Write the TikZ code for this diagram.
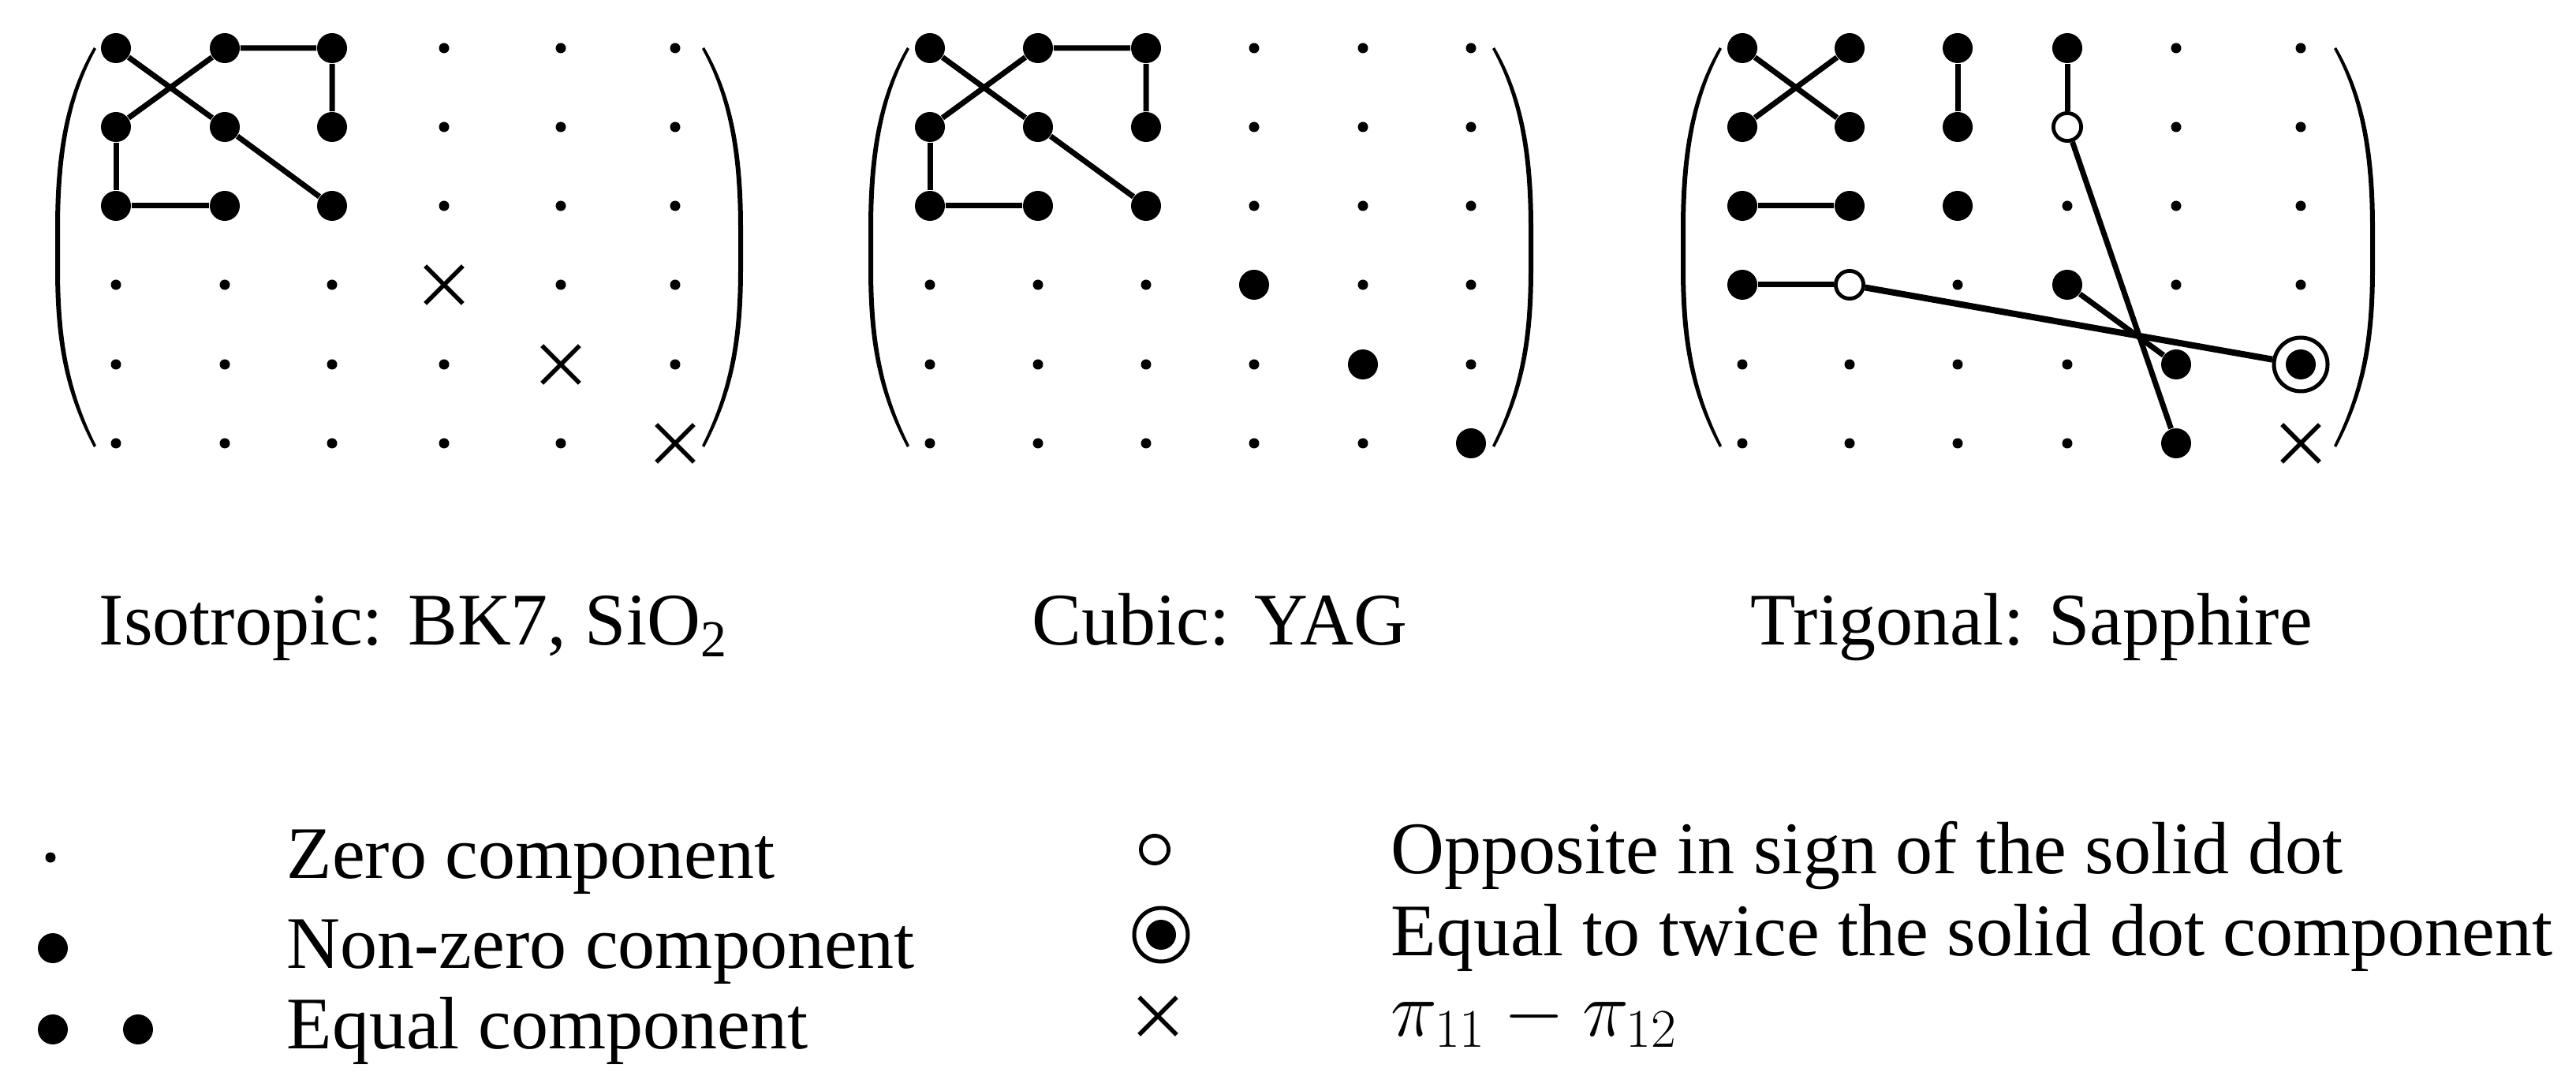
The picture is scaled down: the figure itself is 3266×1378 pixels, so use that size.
\documentclass[tikz,border=0pt]{standalone}
\usepackage{fontspec}
\setmainfont{Liberation Serif}
\usetikzlibrary{shapes.misc}
\begin{document}
\begin{tikzpicture}[x=0.25pt,y=-0.25pt,
  zdot/.style={circle,fill=black,inner sep=0pt,minimum size=3.25pt},
  bdot/.style={circle,fill=black,inner sep=0pt,minimum size=9.5pt},
  odot/.style={circle,draw=black,fill=white,line width=1.2pt,inner sep=0pt,minimum size=8.8pt},
  ddot/.style={circle,draw=black,fill=white,line width=1.25pt,inner sep=0pt,minimum size=17pt,
    path picture={\fill[black] (path picture bounding box.center) circle[radius=4.75pt];}},
  xmk/.style={cross out,draw=black,line width=1.4pt,inner sep=0pt,minimum size=10.5pt},
  conn/.style={line width=1.75pt},
  connw/.style={line width=2pt},
  lbl/.style={anchor=base west,inner sep=0pt,font=\fontsize{23.5}{28}\selectfont},
  lparen/.pic={
    \fill (0,60) .. controls (-38,125) and (-49,200) .. (-49,290) -- (-49,340)
      .. controls (-49,430) and (-38,495) .. (0,567) -- (3,565)
      .. controls (-32,495) and (-43,430) .. (-43,340) -- (-43,290)
      .. controls (-43,200) and (-32,125) .. (3,62) -- cycle;
  }
]
\useasboundingbox (0,0) rectangle (3266,1378);

% ---------- Matrix 1 : Isotropic ----------
\foreach \y/\r/\ta/\tb/\tc/\td/\te/\tf in {
  61/1/bdot/bdot/bdot/zdot/zdot/zdot,
  161/2/bdot/bdot/bdot/zdot/zdot/zdot,
  261/3/bdot/bdot/bdot/zdot/zdot/zdot,
  361/4/zdot/zdot/zdot/xmk/zdot/zdot,
  462/5/zdot/zdot/zdot/zdot/xmk/zdot,
  562/6/zdot/zdot/zdot/zdot/zdot/xmk}{
  \node[\ta] (A\r1) at (147,\y) {};
  \node[\tb] (A\r2) at (285,\y) {};
  \node[\tc] (A\r3) at (421,\y) {};
  \node[\td] (A\r4) at (563,\y) {};
  \node[\te] (A\r5) at (711,\y) {};
  \node[\tf] (A\r6) at (856,\y) {};
}
\draw[conn] (A11) -- (A22) -- (A33);
\draw[conn] (A21) -- (A12) -- (A13) -- (A23);
\draw[conn] (A21) -- (A31) -- (A32);
\pic at (119,0) {lparen};
\pic[xscale=-1] at (893,0) {lparen};

% ---------- Matrix 2 : Cubic ----------
\foreach \y/\r/\ta/\tb/\tc/\td/\te/\tf in {
  61/1/bdot/bdot/bdot/zdot/zdot/zdot,
  161/2/bdot/bdot/bdot/zdot/zdot/zdot,
  261/3/bdot/bdot/bdot/zdot/zdot/zdot,
  361/4/zdot/zdot/zdot/bdot/zdot/zdot,
  462/5/zdot/zdot/zdot/zdot/bdot/zdot,
  562/6/zdot/zdot/zdot/zdot/zdot/bdot}{
  \node[\ta] (B\r1) at (1179,\y) {};
  \node[\tb] (B\r2) at (1316,\y) {};
  \node[\tc] (B\r3) at (1453,\y) {};
  \node[\td] (B\r4) at (1590,\y) {};
  \node[\te] (B\r5) at (1728,\y) {};
  \node[\tf] (B\r6) at (1865,\y) {};
}
\draw[conn] (B11) -- (B22) -- (B33);
\draw[conn] (B21) -- (B12) -- (B13) -- (B23);
\draw[conn] (B21) -- (B31) -- (B32);
\pic at (1150,0) {lparen};
\pic[xscale=-1] at (1895,0) {lparen};

% ---------- Matrix 3 : Trigonal ----------
\foreach \y/\r/\ta/\tb/\tc/\td/\te/\tf in {
  61/1/bdot/bdot/bdot/bdot/zdot/zdot,
  161/2/bdot/bdot/bdot/odot/zdot/zdot,
  261/3/bdot/bdot/bdot/zdot/zdot/zdot,
  361/4/bdot/odot/zdot/bdot/zdot/zdot,
  462/5/zdot/zdot/zdot/zdot/bdot/ddot,
  562/6/zdot/zdot/zdot/zdot/bdot/xmk}{
  \node[\ta] (C\r1) at (2209,\y) {};
  \node[\tb] (C\r2) at (2345,\y) {};
  \node[\tc] (C\r3) at (2482,\y) {};
  \node[\td] (C\r4) at (2621,\y) {};
  \node[\te] (C\r5) at (2759,\y) {};
  \node[\tf] (C\r6) at (2917,\y) {};
}
\draw[conn] (C11) -- (C22);
\draw[conn] (C21) -- (C12);
\draw[conn] (C13) -- (C23);
\draw[conn] (C14) -- (C24);
\draw[conn] (C31) -- (C32);
\draw[conn] (C41) -- (C42);
\draw[conn] (C44) -- (C55);
\draw[conn] (C24) -- (C65);
\draw[connw] (C42) -- (C56);
\pic at (2180,0) {lparen};
\pic[xscale=-1] at (2962,0) {lparen};

% ---------- Labels ----------
\node[lbl] (t1) at (125,818) {Isotropic: BK7, SiO\textsubscript{2}};
\node[lbl] (t2) at (1308,818) {Cubic: YAG};
\node[lbl] (t3) at (2219,818) {Trigonal: Sapphire};

% ---------- Legend ----------
\node[zdot] (L1) at (64,1087) {};
\node[bdot] (L2) at (67,1202) {};
\node[bdot] (L3a) at (67,1305) {};
\node[bdot] (L3b) at (175,1305) {};
\node[odot] (L4) at (1464,1077) {};
\node[ddot] (L5) at (1472,1185) {};
\node[xmk] (L6) at (1468,1288) {};

\node[lbl] (g1) at (363,1113) {Zero component};
\node[lbl] (g2) at (363,1227) {Non-zero component};
\node[lbl] (g3) at (363,1329) {Equal component};
\node[lbl] (g4) at (1763,1107) {Opposite in sign of the solid dot};
\node[lbl] (g5) at (1763,1211) {Equal to twice the solid dot component};
\node[lbl] (g6) at (1763,1313) {$\pi_{11}-\pi_{12}$};
\end{tikzpicture}
\end{document}
